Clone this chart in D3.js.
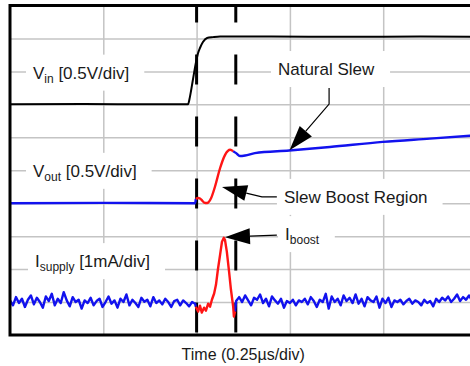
<!DOCTYPE html>
<html><head><meta charset="utf-8">
<script src="https://cdn.jsdelivr.net/npm/d3@7"></script>
<style>body{margin:0;background:#fff}svg{display:block}</style>
</head><body><svg id="c" width="470" height="366"></svg>
<script>
// ---------- data (time in µs, Vin/Vout in V, Isupply in mA) ----------
const gridTimes = [0.25, 0.5, 0.75, 1.0];
const gridDivs = [1, 2, 3, 4, 5, 6, 7, 8, 9];
const markerTimes = [0.5, 0.605];

const vinT = [0, 0.2, 0.477, 0.482, 0.490, 0.498, 0.504, 0.509, 0.517, 0.528, 0.544, 0.563, 0.7, 0.9, 1.1, 1.25];
const vinV = [0, 0.004, 0, 0.11, 0.37, 0.63, 0.78, 0.855, 0.946, 1.006, 1.02, 1.03, 1.03, 1.025, 1.03, 1.025];

const voutT = [0, 0.25, 0.496, 0.498, 0.504, 0.509, 0.515, 0.520, 0.528, 0.539, 0.549, 0.563, 0.576, 0.590, 0.598, 0.606, 0.616, 0.630, 0.656, 0.748, 0.857, 0.999, 1.125, 1.25];
const voutV = [0, 0.005, 0, 0.064, 0.08, 0.07, 0.04, 0.01, 0.003, 0.08, 0.246, 0.534, 0.73, 0.81, 0.79, 0.76, 0.716, 0.724, 0.76, 0.80, 0.853, 0.93, 0.98, 1.03];

const sampleDt = 0.008;
const isupplyPreStart = 0;
const isupplyPre = [0.10,-0.05,0.20,0.02,0.15,-0.10,0.12,0.25,-0.02,0.18,0.05,-0.12,0.22,0.08,0.30,-0.05,0.15,0.02,0.35,0.10,-0.08,0.20,0.05,0.12,-0.15,0.10,0.02,0.18,-0.05,0.08,0.15,-0.10,0.05,0.22,0.00,0.10,-0.12,0.15,0.05,0.28,-0.05,0.12,0.02,-0.10,0.18,0.06,0.12,-0.08,0.20,0.02,0.10,-0.02,0.15,0.05,-0.10,0.08,0.12,-0.05,0.10,0.02,-0.08,0.05,0.00];
const isupplyBoostT = [0.498,0.504,0.509,0.514,0.520,0.525,0.531,0.536,0.541,0.547,0.552,0.557,0.563,0.568,0.573,0.576,0.581,0.587,0.592,0.598,0.600,0.603];
const isupplyBoost = [-0.09,-0.24,-0.06,-0.27,-0.12,-0.21,0.0,-0.09,0.12,0.31,0.58,1.03,1.49,1.88,2.00,1.94,1.58,0.97,0.43,-0.09,-0.39,-0.24];
const isupplyPostStart = 0.606;
const isupplyPost = [0.08,0.20,0.05,0.25,0.10,-0.05,0.18,0.12,0.28,0.02,0.15,-0.08,0.22,0.10,0.00,0.15,-0.12,0.08,0.02,0.12,-0.05,0.10,0.05,0.15,-0.02,0.20,0.08,-0.10,0.12,0.05,0.30,-0.15,0.22,0.05,0.15,-0.05,0.25,0.08,0.18,0.02,0.28,0.00,0.15,-0.08,0.20,0.10,0.05,0.22,-0.12,0.15,0.02,0.18,-0.10,0.10,0.05,0.12,-0.02,0.08,0.15,0.00,0.10,0.05,-0.05,0.12,0.02,0.08,-0.08,0.15,0.05,0.18,0.10,0.22,0.05,0.15,0.28,0.08,0.20,0.12,0.25,0.10,0.18];

const boostWindow = [0.498, 0.598];

// channel label texts
const labelMain = ["V", "V", "I", "Natural Slew", "Slew Boost Region", "I"];
const labelSub = ["in", "out", "supply", "", "", "boost"];
const labelRest = [" [0.5V/div]", " [0.5V/div]", " [1mA/div]", "", "", ""];
const xLabel = "Time (0.25\u00B5s/div)";

// ---------- layout ----------
const svg = d3.select("#c");
const L = 10, R = 476.5, T = 5.5, B = 335;
const x = d3.scaleLinear().domain([0, 1.25]).range([L, R]);
const y = d3.scaleLinear().domain([0, 10]).range([B, T]);
const chan = {vin: {off: 7, perDiv: 0.5}, vout: {off: 4, perDiv: 0.5}, isup: {off: 0.95, perDiv: 1}};
const toDiv = (c, v) => chan[c].off + v / chan[c].perDiv;

const FONT = "'Liberation Sans', Arial, Helvetica, sans-serif";
const BLUE = "#1212ee", RED = "#ff1515", GRID = "#c4c4c4";

// grid via axes
const gx = svg.append("g").attr("transform", `translate(0,${B})`)
  .call(d3.axisBottom(x).tickValues(gridTimes).tickSize(-(B - T)).tickFormat(""));
const gy = svg.append("g").attr("transform", `translate(${L},0)`)
  .call(d3.axisLeft(y).tickValues(gridDivs).tickSize(-(R - L)).tickFormat(""));
[gx, gy].forEach(g => {
  g.select(".domain").remove();
  g.selectAll(".tick line").attr("stroke", GRID).attr("stroke-width", 1.5);
});

const boxLayer = svg.append("g");
const traceLayer = svg.append("g");
const annoLayer = svg.append("g");

// markers
traceLayer.selectAll("line.marker").data(markerTimes).join("line")
  .attr("x1", d => x(d)).attr("x2", d => x(d)).attr("y1", y(10)).attr("y2", y(0))
  .attr("stroke", "#000").attr("stroke-width", 3)
  .attr("stroke-dasharray", "30,32").attr("stroke-dashoffset", 13);

// traces
function pts(ts, vs, c) { return ts.map((t, i) => [t, toDiv(c, vs[i])]); }
const lineSmooth = d3.line().x(d => x(d[0])).y(d => y(d[1])).curve(d3.curveMonotoneX);
const lineRaw = d3.line().x(d => x(d[0])).y(d => y(d[1]));

function drawSplit(points, gen, w) {
  const pre = points.filter(p => p[0] <= boostWindow[0]);
  const boost = points.filter(p => p[0] >= boostWindow[0] && p[0] <= boostWindow[1]);
  const post = [boost[boost.length - 1]].concat(points.filter(p => p[0] > boostWindow[1]));
  const pre2 = pre.concat([boost[0]]);
  [[pre2, BLUE], [post, BLUE], [boost, RED]].forEach(([d, col]) =>
    traceLayer.append("path").attr("d", gen(d)).attr("fill", "none")
      .attr("stroke", col).attr("stroke-width", w).attr("stroke-linejoin", "round"));
}

traceLayer.append("path").attr("d", lineSmooth(pts(vinT, vinV, "vin")))
  .attr("fill", "none").attr("stroke", "#000").attr("stroke-width", 2);

drawSplit(pts(voutT, voutV, "vout"), lineSmooth, 2.4);

const isPre = isupplyPre.map((v, i) => [isupplyPreStart + i * sampleDt, toDiv("isup", v)]);
const isBoost = pts(isupplyBoostT, isupplyBoost, "isup");
const isPost = isupplyPost.map((v, i) => [isupplyPostStart + i * sampleDt, toDiv("isup", v)]);
traceLayer.append("path").attr("d", lineRaw(isPre.concat([isBoost[0]])))
  .attr("fill", "none").attr("stroke", BLUE).attr("stroke-width", 2.4).attr("stroke-linejoin", "round");
traceLayer.append("path").attr("d", lineRaw([isBoost[isBoost.length - 1]].concat(isPost)))
  .attr("fill", "none").attr("stroke", BLUE).attr("stroke-width", 2.4).attr("stroke-linejoin", "round");
traceLayer.append("path").attr("d", lineRaw(isBoost))
  .attr("fill", "none").attr("stroke", RED).attr("stroke-width", 2.4).attr("stroke-linejoin", "round");

// frame
svg.append("path")
  .attr("d", `M${R},${T}H${L}V${B}H${R}`)
  .attr("fill", "none").attr("stroke", "#000").attr("stroke-width", 3);

// labels: [time, baseline div]
const labelPos = [[0.0616, 7.78], [0.0616, 4.80], [0.067, 2.06], [0.718, 7.89], [0.734, 4.01], [0.737, 2.88]];
labelMain.forEach((m, i) => {
  const t = annoLayer.append("text")
    .attr("x", x(labelPos[i][0])).attr("y", y(labelPos[i][1]))
    .attr("font-family", FONT).attr("font-size", 17).attr("fill", "#1a1a1a");
  t.append("tspan").text(m);
  if (labelSub[i]) t.append("tspan").attr("font-size", 12).attr("dy", 4).text(labelSub[i]);
  if (labelRest[i]) t.append("tspan").attr("dy", -4).text(labelRest[i]);
  const bb = t.node().getBBox();
  const cy = y(labelPos[i][1]) - 6;
  boxLayer.append("rect").attr("x", bb.x - 7).attr("width", bb.width + 22)
    .attr("y", cy - 18).attr("height", 36).attr("fill", "#fff");
});

// arrows: leader points and tip, in [time, div]
const arrowLeaders = [
  [[0.855, 7.50], [0.855, 7.01]],
  [[0.715, 4.19], [0.675, 4.19]],
  [[0.715, 3.03]]
];
const arrowTips = [[0.749, 5.61], [0.568, 4.49], [0.576, 2.97]];
arrowLeaders.forEach((lead, i) => {
  const P = lead.map(p => [x(p[0]), y(p[1])]);
  const tip = [x(arrowTips[i][0]), y(arrowTips[i][1])];
  const last = P[P.length - 1];
  const dx = last[0] - tip[0], dy = last[1] - tip[1], len = Math.hypot(dx, dy);
  const ux = dx / len, uy = dy / len, nx = -uy, ny = ux;
  const AL = 25, AW = 8;
  const base = [tip[0] + ux * AL, tip[1] + uy * AL];
  annoLayer.append("path").attr("d", d3.line()(P.concat([base])))
    .attr("fill", "none").attr("stroke", "#000").attr("stroke-width", 1.2);
  annoLayer.append("path")
    .attr("d", d3.line()([tip, [base[0] + nx * AW, base[1] + ny * AW], [base[0] - nx * AW, base[1] - ny * AW]]) + "Z")
    .attr("fill", "#000");
});

// x label
svg.append("text").attr("x", x(0.625)).attr("y", 360).attr("text-anchor", "middle")
  .attr("font-family", FONT).attr("font-size", 16).attr("fill", "#1a1a1a").text(xLabel);
</script>
</body></html>
